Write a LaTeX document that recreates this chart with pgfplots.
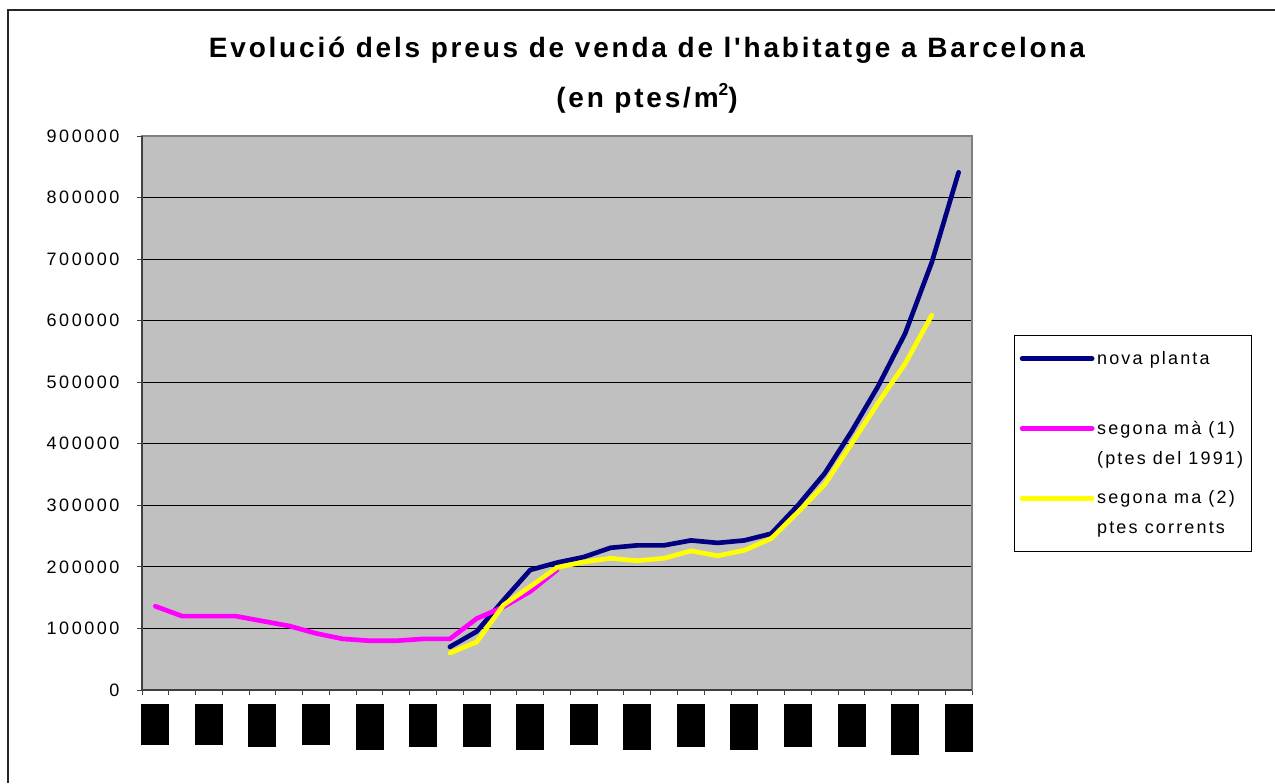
\documentclass[border=0pt]{standalone}
\usepackage{pgfplots}
\pgfplotsset{compat=1.18}
\usepackage{fontspec}
\setmainfont{Liberation Sans}
\newfontfamily\tickfont[LetterSpace=14]{Liberation Sans}
\newfontfamily\legfont[LetterSpace=12]{Liberation Sans}
\newfontfamily\titlefont[LetterSpace=10]{Liberation Sans}
\definecolor{plotgray}{HTML}{C0C0C0}
\definecolor{navyc}{HTML}{000080}
\definecolor{magc}{HTML}{FF00FF}
\definecolor{yelc}{HTML}{FFFF00}
\begin{document}
\begin{tikzpicture}
\useasboundingbox (0pt,0pt) rectangle (956.25pt,587.25pt);
\fill[white] (0pt,0pt) rectangle (956.25pt,587.25pt);
\draw[line width=1.5pt,black!85] (6pt,0pt) -- (6pt,579.75pt) -- (956.25pt,579.75pt);
\node[anchor=base,font=\titlefont\bfseries\fontsize{21}{25}\selectfont] at (485.25pt,543.75pt) {Evolució dels preus de venda de l'habitatge a Barcelona};
\node[anchor=base,font=\titlefont\bfseries\fontsize{21}{25}\selectfont] at (485.25pt,506.25pt) {(en ptes/m\raisebox{0.45em}{\fontsize{13}{13}\selectfont 2})};
\begin{axis}[
  at={(106.5pt,69.75pt)}, anchor=south west,
  scale only axis, width=622.5pt, height=415.5pt,
  xmin=0, xmax=31, ymin=0, ymax=900000,
  scaled y ticks=false,
  axis background/.style={fill=plotgray},
  axis line style={draw=gray, line width=1.5pt},
  xtick={0,...,31}, xticklabels={},
  ytick={0,100000,200000,300000,400000,500000,600000,700000,800000,900000},
  yticklabels={0,100000,200000,300000,400000,500000,600000,700000,800000,900000},
  ymajorgrids, grid style={black, line width=0.75pt},
  tick align=outside, major tick length=3.75pt,
  tick style={black!75, line width=0.75pt},
  xtick pos=bottom, ytick pos=left,
  yticklabel style={font=\tickfont\fontsize{13.5}{16}\selectfont, inner sep=0pt, xshift=-13pt},
  extra x ticks={0.5,2.5,4.5,6.5,8.5,10.5,12.5,14.5,16.5,18.5,20.5,22.5,24.5,26.5,28.5,30.5},
  extra x tick labels={\rule{21pt}{30.75pt},\rule{21pt}{30.75pt},\rule{21pt}{32.25pt},\rule{21pt}{30.75pt},\rule{21pt}{34.5pt},\rule{21pt}{32.25pt},\rule{21pt}{32.25pt},\rule{21pt}{34.5pt},\rule{21pt}{30.75pt},\rule{21pt}{34.5pt},\rule{21pt}{32.25pt},\rule{21pt}{34.5pt},\rule{21pt}{32.25pt},\rule{21pt}{32.25pt},\rule{21pt}{38.25pt},\rule{21pt}{36pt}},
  extra x tick style={major tick length=0pt, grid=none, xticklabel style={anchor=north, inner sep=0pt, yshift=-10.5pt}},
  legend style={at={(1.0506,0.6408)}, anchor=north west, draw=black, line width=0.75pt, fill=white,
     font=\legfont\fontsize{13.5}{22.5}\selectfont, cells={align=left}, row sep=14.5pt, inner xsep=4pt, inner ysep=9.75pt},
  legend cell align=left,
  legend image code/.code={\draw[#1] (0pt,11.25pt) -- (52.5pt,11.25pt);},
  every axis plot/.append style={line width=3.5pt, line cap=round, line join=round},
  after end axis/.code={
    \draw[line width=1.5pt, black!75] (rel axis cs:0,1) -- (rel axis cs:0,0) -- (rel axis cs:1,0);
  },
]
\addplot[navyc] coordinates {
(11.5,70000)(12.5,95000)(13.5,146000)(14.5,195000)(15.5,207000)(16.5,216000)(17.5,231000)(18.5,235000)(19.5,235000)(20.5,243000)(21.5,239000)(22.5,243000)(23.5,254000)(24.5,300000)(25.5,352000)(26.5,420000)(27.5,494000)(28.5,579000)(29.5,695000)(30.5,841000)};
\addlegendentry{nova planta\\~}
\addplot[magc] coordinates {
(0.5,136000)(1.5,120000)(2.5,120000)(3.5,120000)(4.5,112000)(5.5,104000)(6.5,92000)(7.5,83000)(8.5,80000)(9.5,80000)(10.5,83000)(11.5,83000)(12.5,116000)(13.5,135000)(14.5,160000)(15.5,195000)};
\addlegendentry{segona mà (1)\\(ptes del 1991)}
\addplot[yelc] coordinates {
(11.5,60000)(12.5,78000)(13.5,138000)(14.5,168000)(15.5,199000)(16.5,208000)(17.5,214000)(18.5,210000)(19.5,214000)(20.5,226000)(21.5,218000)(22.5,227000)(23.5,246000)(24.5,289000)(25.5,334000)(26.5,400000)(27.5,467000)(28.5,530000)(29.5,609000)};
\addlegendentry{segona ma (2)\\ptes corrents}
\end{axis}
\end{tikzpicture}
\end{document}
